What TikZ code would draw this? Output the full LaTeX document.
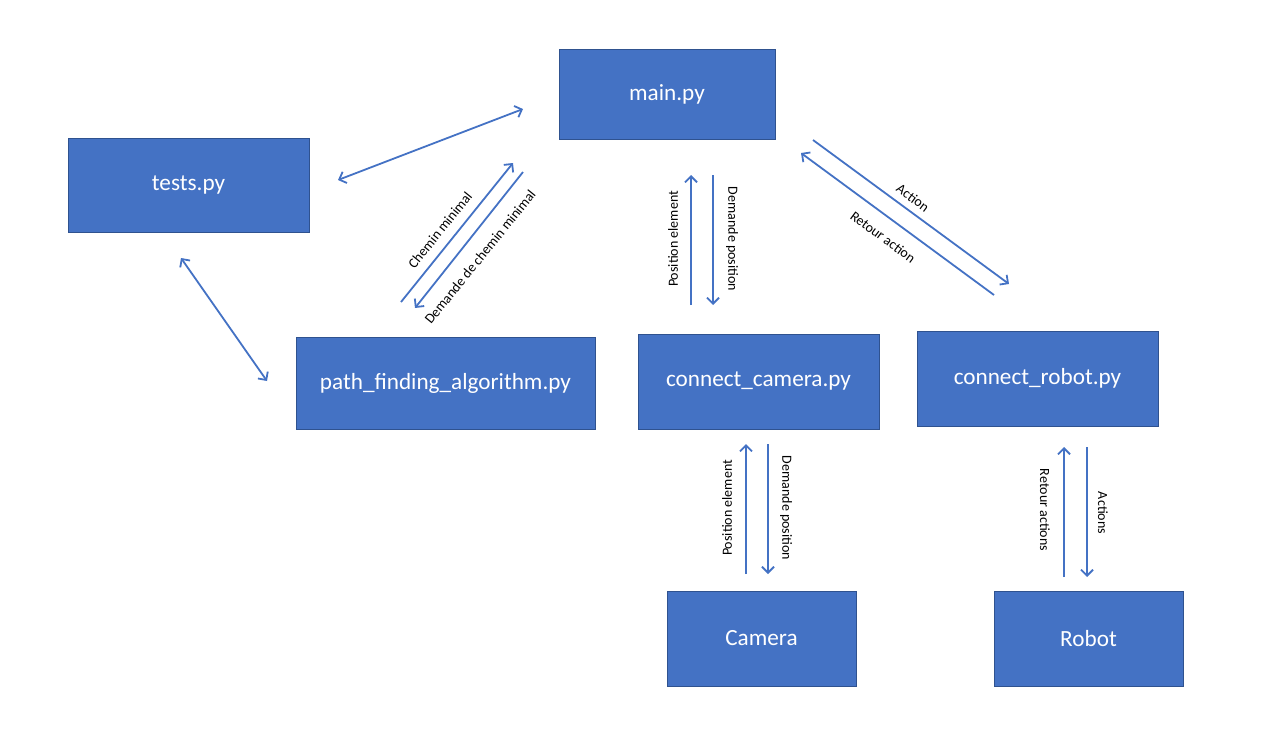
\documentclass[tikz,border=0pt]{standalone}
\usepackage{fontspec}
\setmainfont{Carlito}
\usetikzlibrary{arrows.meta}
\definecolor{boxfill}{HTML}{4472C4}
\definecolor{boxline}{HTML}{2F528F}
\definecolor{arrowcol}{HTML}{4472C4}
\tikzset{
  module/.style={draw=boxline, line width=0.8pt, fill=boxfill, text=white, inner sep=0pt,
    font=\fontsize{23.2}{27}\selectfont, anchor=center},
  flow/.style={draw=arrowcol, line width=1.8pt, -{Straight Barb[length=6pt,width=12pt,line width=1.8pt]}},
  biflow/.style={draw=arrowcol, line width=1.8pt, {Straight Barb[length=6pt,width=12pt,line width=1.8pt]}-{Straight Barb[length=6pt,width=12pt,line width=1.8pt]}},
  lbl/.style={font=\fontsize{14}{16}\selectfont, text=black, inner sep=0pt, anchor=center}
}
\begin{document}
\begin{tikzpicture}[x=1pt,y=-1pt]
\useasboundingbox (0,0) rectangle (1264,729);
% boxes
\node[module, minimum width=216pt, minimum height=90pt] (main) at (667,94) {main.py};
\node[module, minimum width=241pt, minimum height=94pt] (tests) at (188.5,185.5) {tests.py};
\node[module, minimum width=299pt, minimum height=92pt] (path) at (445.5,383) {path\_finding\_algorithm.py};
\node[module, minimum width=241pt, minimum height=95pt] (ccam) at (758.5,381.5) {connect\_camera.py};
\node[module, minimum width=241pt, minimum height=95pt] (crob) at (1037.5,378.5) {connect\_robot.py};
\node[module, minimum width=189pt, minimum height=95pt] (cam) at (761.5,638.5) {Camera};
\node[module, minimum width=189pt, minimum height=95pt] (rob) at (1088.5,638.5) {Robot};
% connector end points
\coordinate (tmA) at (338,180); \coordinate (tmB) at (523,109);
\coordinate (tpA) at (181,258); \coordinate (tpB) at (267,381);
\coordinate (chA) at (401,302); \coordinate (chB) at (513,163);
\coordinate (dcA) at (523,172); \coordinate (dcB) at (415,308);
\coordinate (mpA) at (691,305); \coordinate (mpB) at (691,175);
\coordinate (mdA) at (713,175); \coordinate (mdB) at (713,305);
\coordinate (acA) at (813,140); \coordinate (acB) at (1009,284);
\coordinate (raA) at (994,295); \coordinate (raB) at (801,153);
\coordinate (cpA) at (746,574); \coordinate (cpB) at (746,444);
\coordinate (cdA) at (768,444); \coordinate (cdB) at (768,574);
\coordinate (rrA) at (1064,577); \coordinate (rrB) at (1064,447);
\coordinate (raxA) at (1087,447); \coordinate (raxB) at (1087,577);
% connectors
\draw[biflow] (tmA) -- (tmB);
\draw[biflow] (tpA) -- (tpB);
\draw[flow] (chA) -- (chB);
\draw[flow] (dcA) -- (dcB);
\draw[flow] (mpA) -- (mpB);
\draw[flow] (mdA) -- (mdB);
\draw[flow] (acA) -- (acB);
\draw[flow] (raA) -- (raB);
\draw[flow] (cpA) -- (cpB);
\draw[flow] (cdA) -- (cdB);
\draw[flow] (rrA) -- (rrB);
\draw[flow] (raxA) -- (raxB);
% labels
\node[lbl, rotate=51] (l1) at (440,230) {Chemin minimal};
\node[lbl, rotate=51] (l2) at (480,257) {Demande de chemin minimal};
\node[lbl, rotate=90] (l3) at (673,239) {Position element};
\node[lbl, rotate=-90] (l4) at (732,239) {Demande position};
\node[lbl, rotate=-36.5] (l5) at (913,198) {Action};
\node[lbl, rotate=-36.5] (l6) at (883,237) {Retour action};
\node[lbl, rotate=90] (l7) at (727,508) {Position element};
\node[lbl, rotate=-90] (l8) at (786,508) {Demande position};
\node[lbl, rotate=-90] (l9) at (1045,510) {Retour actions};
\node[lbl, rotate=-90] (l10) at (1103,513) {Actions};
\end{tikzpicture}
\end{document}
